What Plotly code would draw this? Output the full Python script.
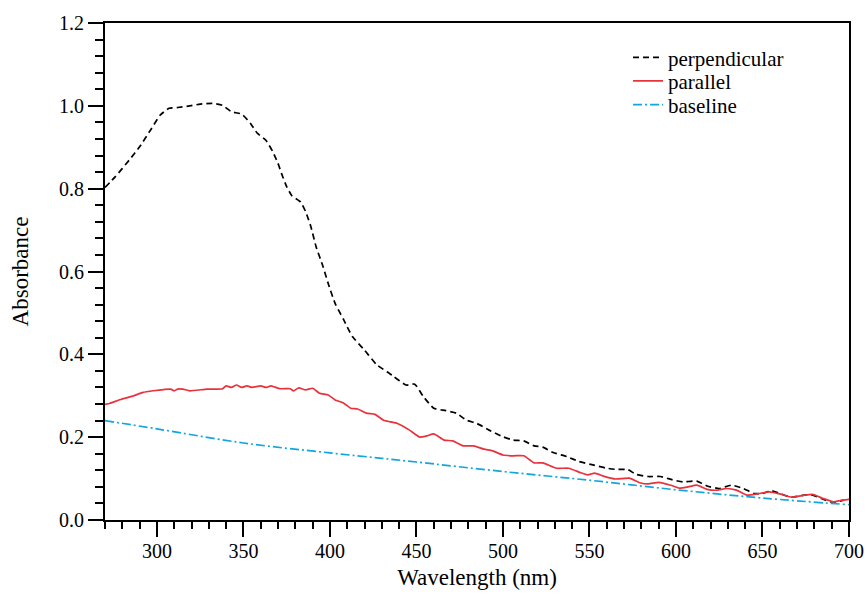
import plotly.graph_objects as go

# Spectra
perp_x = [270, 276, 284, 290, 297, 302, 307, 312, 319, 325,
          332, 338, 343, 349, 354, 358, 363, 367, 370, 372,
          375, 378, 383, 386, 389, 392, 396, 399, 403, 408,
          413, 420, 427, 433, 437, 444, 449, 454, 460, 467,
          473, 479, 485, 492, 500, 506, 512, 518, 523, 529,
          537, 544, 552, 560, 566, 572, 577, 584, 591, 598,
          604, 612, 618, 625, 632, 639, 645, 650, 655, 660,
          667, 674, 679, 684, 689, 693, 697]
perp_y = [0.803, 0.829, 0.869, 0.901, 0.946, 0.978, 0.994, 0.996, 1.000, 1.004,
          1.006, 1.001, 0.986, 0.980, 0.958, 0.934, 0.917, 0.889, 0.861, 0.837,
          0.805, 0.783, 0.768, 0.744, 0.708, 0.660, 0.612, 0.571, 0.523, 0.483,
          0.443, 0.410, 0.375, 0.358, 0.346, 0.326, 0.328, 0.298, 0.270, 0.264,
          0.258, 0.241, 0.233, 0.217, 0.201, 0.193, 0.191, 0.179, 0.176, 0.163,
          0.153, 0.141, 0.133, 0.125, 0.122, 0.122, 0.110, 0.105, 0.105, 0.097,
          0.092, 0.094, 0.082, 0.076, 0.084, 0.076, 0.064, 0.064, 0.071, 0.064,
          0.055, 0.060, 0.060, 0.052, 0.044, 0.044, 0.048]

par_x = [270, 273, 279, 286, 292, 298, 304, 308, 310, 312,
         315, 319, 329, 338, 340, 343, 346, 349, 352, 355,
         360, 363, 366, 371, 377, 379, 382, 386, 390, 394,
         399, 403, 408, 412, 416, 421, 426, 431, 435, 439,
         446, 452, 456, 460, 466, 471, 477, 483, 489, 494,
         500, 506, 512, 518, 523, 531, 538, 545, 549, 553,
         558, 565, 573, 579, 584, 590, 597, 602, 607, 612,
         618, 624, 629, 635, 641, 647, 654, 660, 667, 674,
         679, 685, 691, 695, 700]
par_y = [0.279, 0.282, 0.291, 0.299, 0.308, 0.312, 0.315, 0.316, 0.312, 0.316,
         0.316, 0.312, 0.316, 0.317, 0.324, 0.320, 0.326, 0.320, 0.324, 0.320,
         0.324, 0.320, 0.324, 0.317, 0.317, 0.312, 0.319, 0.314, 0.318, 0.306,
         0.302, 0.290, 0.282, 0.270, 0.268, 0.258, 0.255, 0.241, 0.237, 0.233,
         0.217, 0.200, 0.203, 0.208, 0.193, 0.191, 0.179, 0.179, 0.171, 0.167,
         0.157, 0.155, 0.155, 0.138, 0.138, 0.125, 0.125, 0.114, 0.109, 0.113,
         0.106, 0.099, 0.101, 0.090, 0.087, 0.091, 0.084, 0.077, 0.080, 0.084,
         0.074, 0.072, 0.076, 0.072, 0.060, 0.063, 0.068, 0.063, 0.055, 0.060,
         0.062, 0.052, 0.044, 0.047, 0.050]

base_x = [270, 300, 350, 400, 430, 450, 500, 550, 600, 650, 700]
base_y = [0.240, 0.220, 0.186, 0.162, 0.149, 0.140, 0.117, 0.096, 0.073, 0.053, 0.037]

FONT = "Liberation Serif"

fig = go.Figure()
fig.add_trace(go.Scatter(x=perp_x, y=perp_y, mode="lines", name="perpendicular",
                         legend="legend", showlegend=True,
                         line=dict(color="black", width=1.7, dash="6px,4px",
                                   shape="spline", smoothing=0.5)))
fig.add_trace(go.Scatter(x=par_x, y=par_y, mode="lines", name="parallel",
                         legend="legend2", showlegend=True,
                         line=dict(color="#e8323c", width=1.7,
                                   shape="spline", smoothing=0.5)))
fig.add_trace(go.Scatter(x=base_x, y=base_y, mode="lines", name="baseline",
                         legend="legend3", showlegend=True,
                         line=dict(color="#12a6e0", width=1.7, dash="9px,3px,2px,3px",
                                   shape="spline")))

axis_common = dict(showline=True, linecolor="black", linewidth=2, mirror=True,
                   ticks="outside", ticklen=15, tickwidth=2, tickcolor="black",
                   showgrid=False, zeroline=False, automargin=False,
                   tickfont=dict(family=FONT, size=20, color="black"))

fig.update_xaxes(range=[270, 700], tick0=300, dtick=50, ticklabelstandoff=-3,
                 title=dict(text="Wavelength (nm)", font=dict(family=FONT, size=23, color="black"),
                            standoff=8),
                 minor=dict(dtick=10, tick0=270, ticks="outside", ticklen=7,
                            tickwidth=2, tickcolor="black"),
                 **axis_common)
fig.update_yaxes(range=[0, 1.2], tick0=0, dtick=0.2, tickformat=".1f",
                 title=dict(text="Absorbance", font=dict(family=FONT, size=23, color="black"),
                            standoff=24),
                 minor=dict(dtick=0.04, tick0=0, ticks="outside", ticklen=8,
                            tickwidth=2, tickcolor="black"),
                 **axis_common)

# one small legend per row so the rows can sit as close as in the original
leg = dict(x=0.703, xanchor="left", yanchor="middle", bgcolor="rgba(0,0,0,0)",
           font=dict(family=FONT, size=21, color="black"), itemwidth=30)

fig.update_layout(
    width=867, height=595,
    margin=dict(l=105, r=18, t=23, b=75),
    plot_bgcolor="white", paper_bgcolor="white",
    font=dict(family=FONT, color="black"),
    showlegend=True,
    legend=dict(y=0.930, **leg),
    legend2=dict(y=0.883, **leg),
    legend3=dict(y=0.835, **leg),
)

# drop the page's default body margin so the figure fills the window exactly
fig.write_html("out.html", config={"displayModeBar": False},
               post_script="document.body.style.margin='0';document.body.style.overflow='hidden';")
